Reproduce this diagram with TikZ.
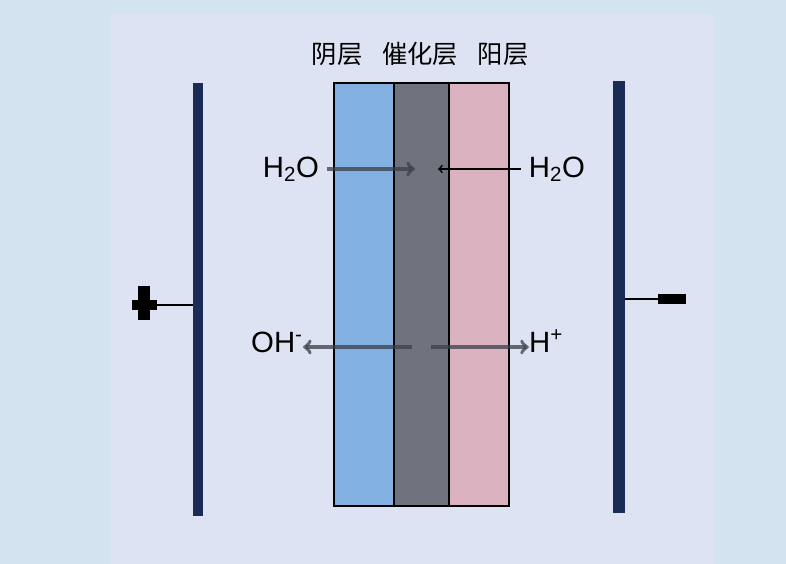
\documentclass[tikz,border=0pt]{standalone}
\usepackage{fontspec}
\setmainfont{Liberation Sans}
\newfontfamily\cjk{Noto Sans CJK SC}
\usetikzlibrary{arrows}

\definecolor{outerbg}{HTML}{D4E3F0}
\definecolor{panelbg}{HTML}{DDE3F2}
\definecolor{navy}{HTML}{1A2B55}
\definecolor{cathode}{HTML}{82B0E0}
\definecolor{catalyst}{HTML}{6E737D}
\definecolor{anode}{HTML}{DBB3C0}
\definecolor{flowgray}{HTML}{3A3F48}

\tikzset{
  layer/.style={draw=black, line width=1.5pt},
  electrode/.style={fill=navy},
  title/.style={font=\cjk\fontsize{19}{19}\selectfont, inner sep=0pt},
  species/.style={font=\fontsize{22}{22}\selectfont, inner sep=0pt, anchor=base},
  flow/.style={-to, line width=2.8pt, draw=flowgray, opacity=0.75},
}

\begin{document}
\begin{tikzpicture}[x=0.75pt,y=-0.75pt]
  % background
  \fill[outerbg] (0,0) rectangle (786,564);
  \fill[panelbg] (111,14) rectangle (714,564);

  % membrane layers
  \draw[layer, fill=cathode] (334,83) rectangle (394,506);
  \draw[layer, fill=catalyst] (394,83) rectangle (449,506);
  \draw[layer, fill=anode] (449,83) rectangle (509,506);

  \node[title] (cathodeLbl) at (337,54) {阴层};
  \node[title] (catalystLbl) at (420,54) {催化层};
  \node[title] (anodeLbl) at (503,54) {阳层};

  % electrodes
  \fill[electrode] (193,83) rectangle (203,516);
  \fill[electrode] (613,81) rectangle (625,513);
  \coordinate (leftTap) at (193,305);
  \coordinate (rightTap) at (625,299);

  % terminals
  \node[fill=black, minimum width=9pt, minimum height=25.5pt, inner sep=0pt] (plusV) at (144,303) {};
  \node[fill=black, minimum width=19pt, minimum height=8pt, inner sep=0pt] (plusH) at (144.5,305) {};
  \node[fill=black, minimum width=21pt, minimum height=7.5pt, inner sep=0pt] (minus) at (672,299) {};
  \draw[line width=1.5pt] (plusH.east) -- (leftTap);
  \draw[line width=1.5pt] (rightTap) -- (minus.west);

  % species
  \node[species] (waterL) at (291,177) {H\textsubscript{2}O};
  \node[species] (waterR) at (557,177) {H\textsubscript{2}O};
  \node[species] (hydroxide) at (277,352) {OH\textsuperscript{-}};
  \node[species] (proton) at (546,352) {H\textsuperscript{+}};

  \coordinate (waterLin) at (415,169);
  \coordinate (waterRin) at (438,169);
  \coordinate (ohStart) at (412,347);
  \coordinate (hStart) at (431,347);

  \draw[flow] (waterL.east |- waterLin) ++(8,0) -- (waterLin);
  \draw[-to, line width=1.3pt] (waterR.west |- waterRin) ++(-8,0) -- (waterRin);
  \draw[flow] (ohStart) -- (hydroxide.east |- ohStart);
  \draw[flow] (hStart) -- (proton.west |- hStart);
\end{tikzpicture}
\end{document}
